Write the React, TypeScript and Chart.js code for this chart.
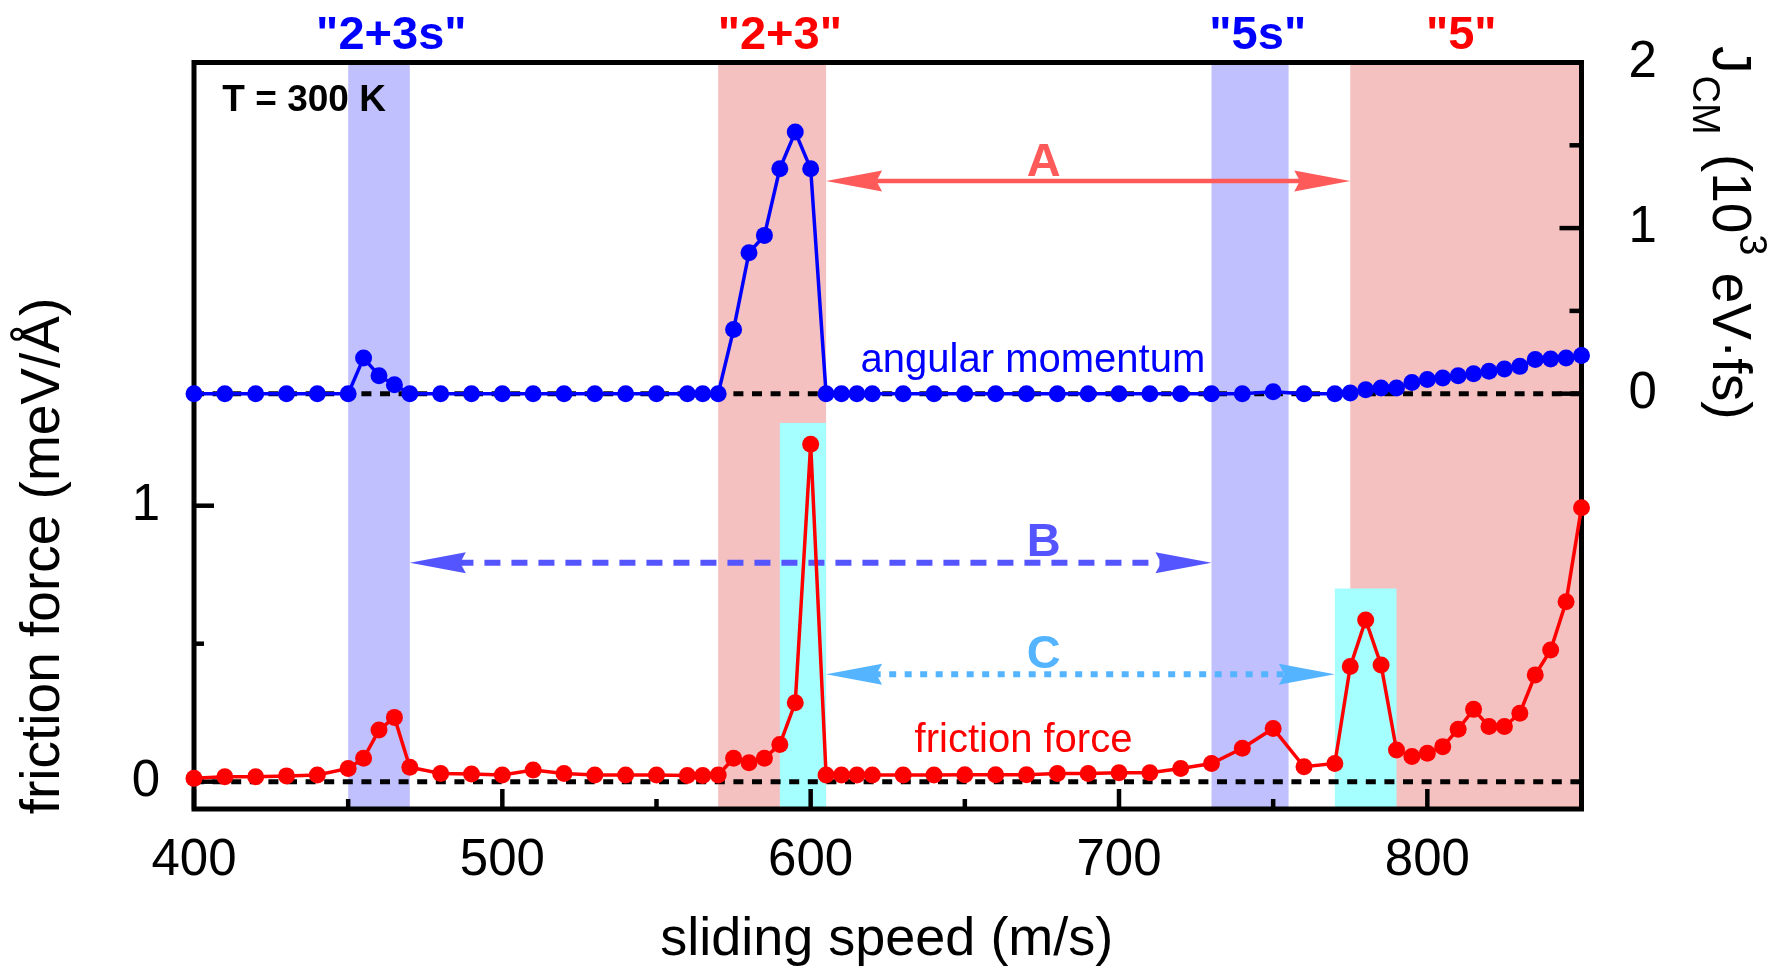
import React, { useEffect, useRef } from 'react';
import { Chart, registerables } from 'chart.js';

Chart.register(...registerables);

// ---------- data ----------
const speeds = [400, 410, 420, 430, 440, 450, 455, 460, 465, 470, 480, 490, 500, 510, 520, 530, 540, 550, 560, 565, 570, 575, 580, 585, 590, 595, 600, 605, 610, 615, 620, 630, 640, 650, 660, 670, 680, 690, 700, 710, 720, 730, 740, 750, 760, 770, 775, 780, 785, 790, 795, 800, 805, 810, 815, 820, 825, 830, 835, 840, 845, 850];

const frictionForce = [0.012, 0.018, 0.018, 0.021, 0.024, 0.048, 0.085, 0.187, 0.233, 0.052, 0.030, 0.028, 0.024, 0.042, 0.030, 0.024, 0.024, 0.024, 0.022, 0.022, 0.024, 0.085, 0.069, 0.085, 0.135, 0.286, 1.223, 0.024, 0.024, 0.024, 0.024, 0.024, 0.024, 0.025, 0.025, 0.025, 0.030, 0.030, 0.032, 0.032, 0.048, 0.066, 0.121, 0.193, 0.054, 0.066, 0.417, 0.586, 0.423, 0.115, 0.091, 0.103, 0.127, 0.190, 0.262, 0.200, 0.200, 0.248, 0.387, 0.477, 0.652, 0.993];

const angularMomentum = [0, 0, 0, 0, 0, 0, 0.216, 0.109, 0.054, 0, 0, 0, 0, 0, 0, 0, 0, 0, 0, 0, 0, 0.387, 0.851, 0.956, 1.359, 1.580, 1.359, 0, 0, 0, 0, 0, 0, 0, 0, 0, 0, 0, 0, 0, 0, 0, 0, 0.012, 0, 0, 0.004, 0.024, 0.034, 0.034, 0.068, 0.085, 0.095, 0.109, 0.121, 0.135, 0.149, 0.165, 0.206, 0.210, 0.216, 0.230];

const xTickValues = [400, 450, 500, 550, 600, 650, 700, 750, 800, 850];
const xTickLabels = ['400', '', '500', '', '600', '', '700', '', '800', ''];
const leftTickValues = [0, 0.5, 1];
const leftTickLabels = ['0', '', '1'];
const rightTickValues = [0, 0.5, 1, 1.5, 2];
const rightTickLabels = ['0', '', '1', '', '2'];

// shaded regions (speed ranges)
const blueBandStart = [450, 730];
const blueBandEnd = [470, 755];
const redBandStart = [570, 775];
const redBandEnd = [605, 850];
const cyanBandStart = [590, 770];
const cyanBandEnd = [605, 790];
const cyanBandTop = [1.30, 0.70];

// region names above the frame
const regionNames = ['"2+3s"', '"2+3"', '"5s"', '"5"'];
const regionNameX = [464, 590, 745, 811];
const regionNameColor = ['#0000ff', '#ff0000', '#0000ff', '#ff0000'];

// arrows A, B, C
const arrowNames = ['A', 'B', 'C'];
const arrowFrom = [605, 470, 605];
const arrowTo = [775, 730, 770];
const arrowLevel = [1.284, 0.793, 0.389];
const arrowAxis = ['y2', 'y', 'y'];
const arrowNameLevel = [1.317, 0.818, 0.413];
const arrowNameX = [675.6, 675.6, 675.6];

const FONT = "'Liberation Sans', Arial, Helvetica, sans-serif";

const drawArrow = (ctx: CanvasRenderingContext2D, x1: number, x2: number, yy: number, color: string, dash: number[], lw: number) => {
  const L = 56, H = 10.5;
  ctx.save();
  ctx.strokeStyle = color;
  ctx.fillStyle = color;
  ctx.lineWidth = lw;
  ctx.setLineDash(dash);
  ctx.beginPath();
  ctx.moveTo(x1 + L * 0.85, yy);
  ctx.lineTo(x2 - L * 0.85, yy);
  ctx.stroke();
  ctx.setLineDash([]);
  ctx.beginPath();
  ctx.moveTo(x1, yy);
  ctx.lineTo(x1 + L, yy - H);
  ctx.lineTo(x1 + L * 0.9, yy);
  ctx.lineTo(x1 + L, yy + H);
  ctx.closePath();
  ctx.fill();
  ctx.beginPath();
  ctx.moveTo(x2, yy);
  ctx.lineTo(x2 - L, yy - H);
  ctx.lineTo(x2 - L * 0.9, yy);
  ctx.lineTo(x2 - L, yy + H);
  ctx.closePath();
  ctx.fill();
  ctx.restore();
};

const decorPlugin = {
  id: 'decor',
  beforeDatasetsDraw(chart: any) {
    const { ctx, chartArea: a, scales } = chart;
    const x = scales.x, y = scales.y, y2 = scales.y2;
    ctx.save();
    // bands
    ctx.fillStyle = '#f5c0c0';
    redBandStart.forEach((s, i) => {
      const p1 = x.getPixelForValue(s), p2 = x.getPixelForValue(redBandEnd[i]);
      ctx.fillRect(p1, a.top, p2 - p1, a.bottom - a.top);
    });
    ctx.fillStyle = '#c0c0ff';
    blueBandStart.forEach((s, i) => {
      const p1 = x.getPixelForValue(s), p2 = x.getPixelForValue(blueBandEnd[i]);
      ctx.fillRect(p1, a.top, p2 - p1, a.bottom - a.top);
    });
    ctx.fillStyle = '#a6ffff';
    cyanBandStart.forEach((s, i) => {
      const p1 = x.getPixelForValue(s), p2 = x.getPixelForValue(cyanBandEnd[i]);
      const t = y.getPixelForValue(cyanBandTop[i]);
      ctx.fillRect(p1, t, p2 - p1, a.bottom - t);
    });

    // dotted zero lines
    ctx.strokeStyle = '#000';
    ctx.lineWidth = 5;
    ctx.setLineDash([10, 8.6]);
    [y.getPixelForValue(0), y2.getPixelForValue(0)].forEach((py: number) => {
      ctx.beginPath();
      ctx.moveTo(a.left, py);
      ctx.lineTo(a.right, py);
      ctx.stroke();
    });
    ctx.setLineDash([]);

    // frame
    ctx.lineWidth = 5;
    ctx.strokeRect(a.left, a.top, a.right - a.left, a.bottom - a.top);

    // inward ticks
    ctx.lineWidth = 4.5;
    xTickValues.forEach((v, i) => {
      const px = x.getPixelForValue(v);
      const len = xTickLabels[i] ? 20 : 10;
      ctx.beginPath();
      ctx.moveTo(px, a.bottom);
      ctx.lineTo(px, a.bottom - len);
      ctx.stroke();
    });
    leftTickValues.forEach((v, i) => {
      const py = y.getPixelForValue(v);
      const len = leftTickLabels[i] ? 20 : 10;
      ctx.beginPath();
      ctx.moveTo(a.left, py);
      ctx.lineTo(a.left + len, py);
      ctx.stroke();
    });
    rightTickValues.forEach((v, i) => {
      const py = y2.getPixelForValue(v);
      const len = rightTickLabels[i] ? 22 : 12;
      ctx.beginPath();
      ctx.moveTo(a.right, py);
      ctx.lineTo(a.right - len, py);
      ctx.stroke();
    });

    // arrows
    const arrowColor = ['#ff5a5a', '#5555ff', '#55b4ff'];
    const arrowDash = [[], [16, 11], [7, 8.5]];
    const arrowWidth = [4.5, 6, 6];
    arrowNames.forEach((n, i) => {
      const sc = arrowAxis[i] === 'y2' ? y2 : y;
      drawArrow(ctx, x.getPixelForValue(arrowFrom[i]), x.getPixelForValue(arrowTo[i]), sc.getPixelForValue(arrowLevel[i]), arrowColor[i], arrowDash[i], arrowWidth[i]);
      ctx.fillStyle = arrowColor[i];
      ctx.font = `bold 47px ${FONT}`;
      ctx.textAlign = 'center';
      ctx.textBaseline = 'alphabetic';
      ctx.fillText(n, x.getPixelForValue(arrowNameX[i]), sc.getPixelForValue(arrowNameLevel[i]));
    });

    // text notes
    ctx.textAlign = 'left';
    ctx.fillStyle = '#000';
    ctx.font = `bold 37px ${FONT}`;
    ctx.fillText('T = 300 K', x.getPixelForValue(409.2), y2.getPixelForValue(1.708));
    ctx.fillStyle = '#0000ff';
    ctx.font = `40px ${FONT}`;
    ctx.fillText('angular momentum', x.getPixelForValue(616.2), y2.getPixelForValue(0.128));
    ctx.fillStyle = '#ff0000';
    ctx.fillText('friction force', x.getPixelForValue(633.7), y.getPixelForValue(0.109));
    ctx.restore();
  },
  afterDraw(chart: any) {
    const { ctx, chartArea: a, scales } = chart;
    const x = scales.x;
    ctx.save();
    // region names
    ctx.font = `bold 47px ${FONT}`;
    ctx.textAlign = 'center';
    ctx.textBaseline = 'alphabetic';
    regionNames.forEach((n, i) => {
      ctx.fillStyle = regionNameColor[i];
      ctx.fillText(n, x.getPixelForValue(regionNameX[i]), a.top - 14);
    });
    // x title
    ctx.fillStyle = '#000';
    ctx.font = `54px ${FONT}`;
    ctx.fillText('sliding speed (m/s)', (a.left + a.right) / 2 - 1, 955);
    // left title
    ctx.save();
    ctx.translate(59, 556);
    ctx.rotate(-Math.PI / 2);
    ctx.font = `55px ${FONT}`;
    ctx.fillText('friction force (meV/\u00C5)', 0, 0);
    ctx.restore();
    // right title
    ctx.save();
    ctx.translate(1713, 46);
    ctx.rotate(Math.PI / 2);
    ctx.textAlign = 'left';
    let cx = 0;
    const seg = (t: string, size: number, dy: number, gap: number) => {
      ctx.font = `${size}px ${FONT}`;
      ctx.fillText(t, cx, dy);
      cx += ctx.measureText(t).width + gap;
    };
    seg('J', 55, 0, 2);
    seg('CM', 38, 20, 4);
    seg(' (10', 55, 0, 1);
    seg('3', 38, -27, 2);
    seg(' eV\u00B7fs)', 55, 0, 0);
    ctx.restore();
    ctx.restore();
  },
};

const zeroPad = (s: any) => {
  s.paddingTop = 0;
  s.paddingBottom = 0;
  s.paddingLeft = 0;
  s.paddingRight = 0;
};

export default function App() {
  const ref = useRef<HTMLCanvasElement>(null);
  useEffect(() => {
    if (!ref.current) return;
    const chart = new Chart(ref.current, {
      type: 'line',
      data: {
        datasets: [
          {
            label: 'friction force',
            data: speeds.map((s, i) => ({ x: s, y: frictionForce[i] })),
            yAxisID: 'y',
            borderColor: '#ff0000',
            backgroundColor: '#ff0000',
            borderWidth: 3.5,
            pointRadius: 8.5,
            pointBorderWidth: 0,
            tension: 0,
            clip: false as any,
          },
          {
            label: 'angular momentum',
            data: speeds.map((s, i) => ({ x: s, y: angularMomentum[i] })),
            yAxisID: 'y2',
            borderColor: '#0000ff',
            backgroundColor: '#0000ff',
            borderWidth: 3.5,
            pointRadius: 8.5,
            pointBorderWidth: 0,
            tension: 0,
            clip: false as any,
          },
        ],
      },
      options: {
        responsive: false,
        animation: false,
        devicePixelRatio: 1,
        layout: { padding: { top: 62.5, left: 0, right: 0, bottom: 0 } },
        plugins: { legend: { display: false }, tooltip: { enabled: false } },
        scales: {
          x: {
            type: 'linear',
            position: 'bottom',
            min: 400,
            max: 850,
            grid: { display: false, drawTicks: false },
            border: { display: false },
            afterBuildTicks: (s: any) => { s.ticks = xTickValues.map((v) => ({ value: v })); },
            afterFit: (s: any) => { s.height = 972 - 809; zeroPad(s); },
            ticks: {
              autoSkip: false,
              maxRotation: 0,
              padding: 21,
              color: '#000',
              font: { family: FONT, size: 51 },
              callback: (v: any) => xTickLabels[xTickValues.indexOf(Number(v))] ?? '',
            },
          },
          y: {
            type: 'linear',
            position: 'left',
            min: -0.099,
            max: 2.606,
            grid: { display: false, drawTicks: false },
            border: { display: false },
            afterBuildTicks: (s: any) => { s.ticks = leftTickValues.map((v) => ({ value: v })); },
            afterFit: (s: any) => { s.width = 194; zeroPad(s); },
            ticks: {
              padding: 34,
              color: '#000',
              font: { family: FONT, size: 51 },
              callback: (v: any) => leftTickLabels[leftTickValues.indexOf(Number(v))] ?? '',
            },
          },
          y2: {
            type: 'linear',
            position: 'right',
            min: -2.508,
            max: 2.0,
            grid: { display: false, drawTicks: false },
            border: { display: false },
            afterBuildTicks: (s: any) => { s.ticks = rightTickValues.map((v) => ({ value: v })); },
            afterFit: (s: any) => { s.width = 1783 - 1581.5; zeroPad(s); },
            ticks: {
              padding: 47,
              color: '#000',
              font: { family: FONT, size: 51 },
              callback: (v: any) => rightTickLabels[rightTickValues.indexOf(Number(v))] ?? '',
            },
          },
        },
      },
      plugins: [decorPlugin],
    });
    return () => chart.destroy();
  }, []);
  return (
    <div style={{ position: 'fixed', left: 0, top: 0, width: 1783, height: 972, background: '#fff' }}>
      <canvas ref={ref} width={1783} height={972} style={{ display: 'block' }} />
    </div>
  );
}
